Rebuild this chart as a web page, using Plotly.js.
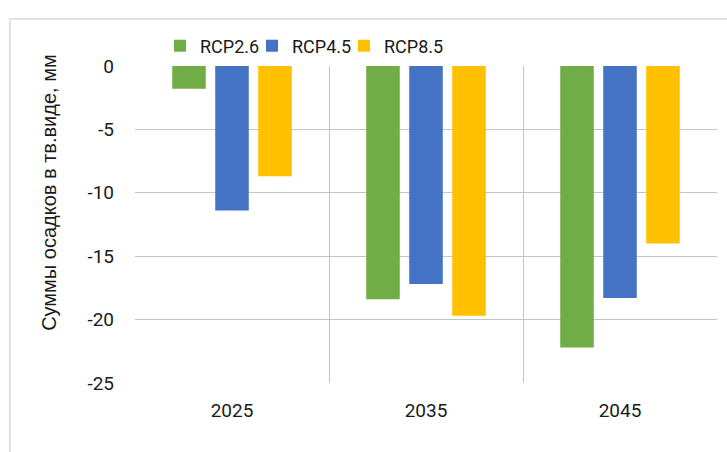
<!DOCTYPE html>
<html>
<head>
<meta charset="utf-8">
<script src="https://cdn.plot.ly/plotly-3.0.1.min.js"></script>
<style>html,body{margin:0;padding:0;background:#fff;}#chart{width:727px;height:452px;}</style>
</head>
<body>
<div id="chart"></div>
<script>
var years = ['2025', '2035', '2045'];
var rcp26 = [-1.8, -18.4, -22.2];
var rcp45 = [-11.4, -17.2, -18.3];
var rcp85 = [-8.7, -19.7, -14.0];
var seriesNames = ['RCP2.6', 'RCP4.5', 'RCP8.5'];
var colors = ['#70ad47', '#4472c4', '#ffc000'];
var yTicks = [0, -5, -10, -15, -20, -25];
var yTitle = 'Суммы осадков в тв.виде, мм';

var data = [rcp26, rcp45, rcp85].map(function (v, i) {
  return {type: 'bar', x: years, y: v, name: seriesNames[i], marker: {color: colors[i]}};
});

var font = {family: 'Roboto, sans-serif', size: 19, color: '#1a1a1a'};
var legendFont = {family: 'Roboto, sans-serif', size: 18, color: '#1a1a1a'};
var grid = '#c4c4c4';

var layout = {
  width: 727, height: 452,
  margin: {l: 135, r: 10, t: 66, b: 69},
  paper_bgcolor: '#fff', plot_bgcolor: '#fff',
  font: font,
  barmode: 'group', bargap: 0.335, bargroupgap: 0.22,
  showlegend: true,
  legend: {orientation: 'h', x: 0.043, xanchor: 'left', y: 1.063, yanchor: 'middle',
           font: legendFont, bgcolor: 'rgba(0,0,0,0)', entrywidth: 47, entrywidthmode: 'pixels'},
  xaxis: {type: 'category', tickson: 'boundaries', showgrid: true, gridcolor: grid, gridwidth: 1,
          ticks: '', showline: false, zeroline: false, ticklabelstandoff: 14,
          tickfont: font, fixedrange: true},
  yaxis: {range: [-25, 0], tickvals: yTicks, ticktext: yTicks.map(String), showgrid: true,
          gridcolor: grid, gridwidth: 1, zeroline: false, showline: false, ticks: '',
          ticklabelstandoff: 20, tickfont: font},
  annotations: [{text: yTitle, textangle: -90, xref: 'paper', yref: 'paper',
                 x: -0.148, y: 0.6025, xanchor: 'center', yanchor: 'middle', showarrow: false,
                 font: {family: 'Liberation Sans, Arial, sans-serif', size: 20, color: '#1a1a1a'}}],
  shapes: [{type: 'rect', xref: 'paper', yref: 'paper', x0: -0.215, x1: 2, y0: -1, y1: 1.148,
            line: {color: '#d9d9d9', width: 1.5}, fillcolor: 'rgba(0,0,0,0)', layer: 'above'}]
};

Plotly.newPlot('chart', data, layout, {staticPlot: true, displayModeBar: false}).then(function (gd) {
  // let the last legend entry's text run past its fixed entry width
  gd.querySelectorAll('.legend .scrollbox, .legend').forEach(function (el) {
    el.removeAttribute('clip-path');
  });
});
</script>
</body>
</html>
